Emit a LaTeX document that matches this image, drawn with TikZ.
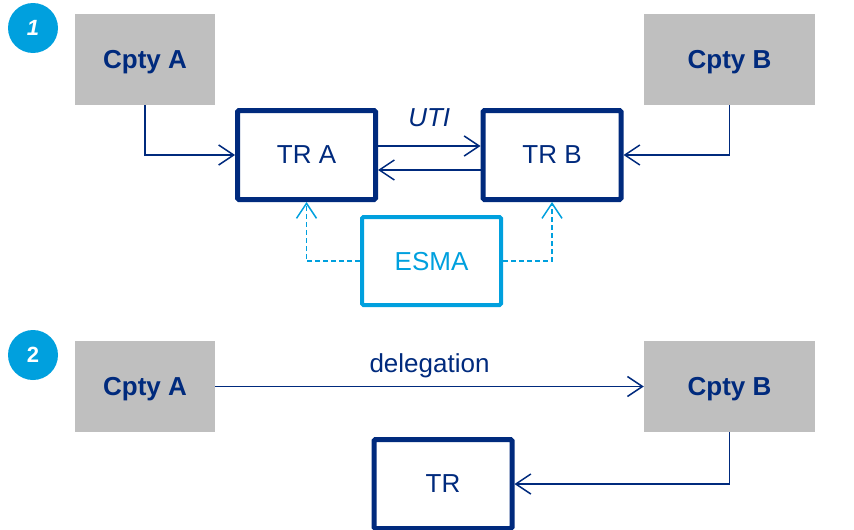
\documentclass[tikz,border=0pt]{standalone}
\usepackage{fontspec}
\setmainfont{Liberation Sans}
\usetikzlibrary{arrows.meta}

\definecolor{navy}{RGB}{0,42,125}
\definecolor{sky}{RGB}{0,160,222}
\definecolor{cptygrey}{RGB}{191,191,191}

\tikzset{
  cpty/.style={fill=cptygrey, inner sep=0pt, minimum height=91pt, text=navy,
    text depth=0pt, font=\fontsize{26}{30}\selectfont\bfseries},
  repo/.style={draw=navy, line width=5pt, rounded corners=1.5pt, fill=white,
    minimum width=138pt, minimum height=89pt, text=navy, text depth=0pt,
    font=\fontsize{26}{30}\selectfont},
  auth/.style={draw=sky, line width=4pt, rounded corners=1.5pt,
    minimum width=139pt, minimum height=88pt, text=sky, text depth=0pt,
    font=\fontsize{26}{30}\selectfont},
  stepnum/.style={circle, fill=sky, minimum size=50pt, inner sep=0pt,
    text=white, font=\fontsize{22}{26}\selectfont\bfseries},
  arr/.style={draw=navy, line width=1.5pt, -{Straight Barb[length=15pt,width=20pt]}},
  dasharr/.style={draw=sky, line width=1.5pt, dash pattern=on 5pt off 3pt,
    -{Straight Barb[length=15pt,width=20pt]}},
  lbl/.style={inner sep=0pt, text=navy, font=\fontsize{26}{30}\selectfont}
}

\begin{document}
\begin{tikzpicture}[x=1pt,y=-1pt]
  \useasboundingbox (0,0) rectangle (854,530);

  % 1: two repositories
  \node[stepnum] (num1) at (33,28) {\itshape 1};
  \node[cpty, minimum width=140pt] (cptyA1) at (145,59.5) {Cpty A};
  \node[cpty, minimum width=171pt] (cptyB1) at (729.5,59.5) {Cpty B};
  \node[repo] (trA) at (306.5,155) {TR A};
  \node[repo] (trB) at (552,155) {TR B};
  \node[auth] (esma) at (431.5,261) {ESMA};

  \draw[arr] (cptyA1.south) |- (trA.west);
  \draw[arr] (cptyB1.south) |- (trB.east);
  \draw[arr] ([yshift=9pt]trA.east) -- node[lbl, above=18pt] {\itshape UTI} ([yshift=9pt]trB.west);
  \draw[arr] ([yshift=-15pt]trB.west) -- ([yshift=-15pt]trA.east);
  \draw[dasharr] (esma.west) -| (trA.south);
  \draw[dasharr] (esma.east) -| (trB.south);

  % 2: delegated reporting
  \node[stepnum] (num2) at (33,355) {2};
  \node[cpty, minimum width=140pt] (cptyA2) at (145,386.5) {Cpty A};
  \node[cpty, minimum width=171pt] (cptyB2) at (729.5,386.5) {Cpty B};
  \node[repo] (tr) at (443,484) {TR};

  \draw[arr] (cptyA2.east) -- node[lbl, above=8pt] {delegation} (cptyB2.west);
  \draw[arr] (cptyB2.south) |- (tr.east);
\end{tikzpicture}
\end{document}
